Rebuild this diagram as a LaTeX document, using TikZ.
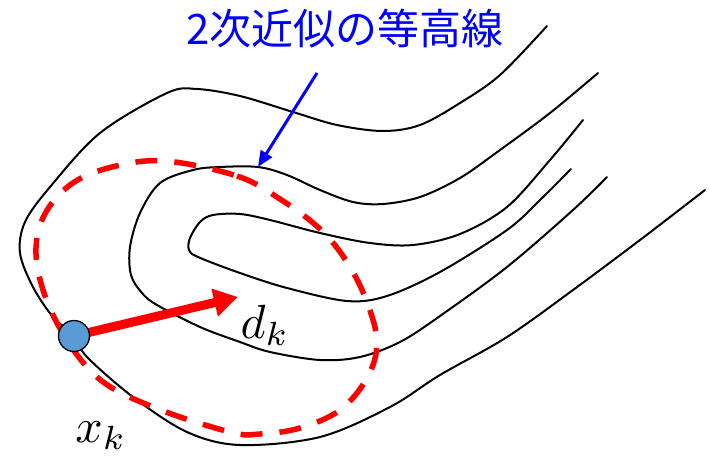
\documentclass[tikz,border=0pt]{standalone}
\usepackage{fontspec}
\newfontfamily\jpfont{Noto Sans CJK JP}
\usetikzlibrary{arrows.meta}
\definecolor{dotblue}{HTML}{5B9BD5}
\definecolor{labelblue}{RGB}{0,0,255}
\begin{document}
\begin{tikzpicture}[x=1pt,y=-1pt,
  contour/.style={line width=2pt, black, line cap=round, line join=round},
  approx/.style={red, line width=5.5pt, dash pattern=on 22pt off 17pt},
  dirarrow/.style={red, line width=9pt, -{Triangle[length=24pt,width=27pt]}},
  callout/.style={labelblue, line width=3pt, -{Triangle[length=16pt,width=13pt]}},
  mathlabel/.style={inner sep=0pt},
  pointdot/.style={circle, draw=black, line width=1.3pt, fill=dotblue, minimum size=31pt, inner sep=0pt}]
\useasboundingbox (0,0) rectangle (709,455);

% contour lines
\draw[contour] plot[smooth, tension=0.55] coordinates {
  (547,26) (500,75) (460,103) (420,125) (383,131) (337,125) (293,112) (240,96) (197,89)
  (167,93) (100,133) (50,187) (25,222) (20,253) (33,287) (53,317) (74,336) (87,357)
  (133,397) (187,432) (240,445) (320,437) (390,407) (440,375) (507,337) (573,290)
  (640,240) (705,190)};
\draw[contour] plot[smooth, tension=0.55] coordinates {
  (598,73) (550,113) (500,150) (460,178) (420,197) (383,204) (353,202) (320,190)
  (287,175) (258,167) (220,167) (193,170) (160,183) (140,213) (130,247) (131,275)
  (142,293) (157,305) (200,327) (240,342) (270,352) (320,360) (360,357) (400,342)
  (440,316) (507,267) (573,210) (607,177)};
\draw[contour] plot[smooth, tension=0.55] coordinates {
  (583,120) (550,160) (507,207) (460,234) (413,245) (370,243) (320,233) (270,220)
  (240,214) (213,215) (200,222) (190,238) (189,250) (198,257) (240,273) (287,288)
  (347,301) (387,296) (440,272) (507,230) (540,200) (571,169)};

% quadratic approximation contour
\draw[approx] plot[smooth cycle, tension=0.6] coordinates {
  (165,161) (237,176) (280,199) (320,229) (347,262) (367,302) (377,343) (367,378)
  (340,410) (300,428) (260,434) (230,432) (153,407) (97,377) (57,323) (37,265)
  (42,220) (70,185) (112,167)};

% title and callout
\node[labelblue, inner sep=0pt, font=\jpfont\fontsize{42}{46}\selectfont] (title) at (345,29) {2次近似の等高線};
\coordinate (cstart) at (317,73);
\coordinate (ctip) at (258,167);
\draw[callout] (cstart) -- (ctip);

% point and direction
\coordinate (xkc) at (74,336);
\coordinate (dtip) at (238,297);
\draw[dirarrow] (xkc) -- (dtip);
\node[pointdot] (xk) at (xkc) {};

\node[mathlabel] (dk) at (265,325) {\scalebox{4.8}{$d_k$}};
\node[mathlabel] (xklabel) at (101,436) {\scalebox{4.8}{$x_k$}};
\end{tikzpicture}
\end{document}
